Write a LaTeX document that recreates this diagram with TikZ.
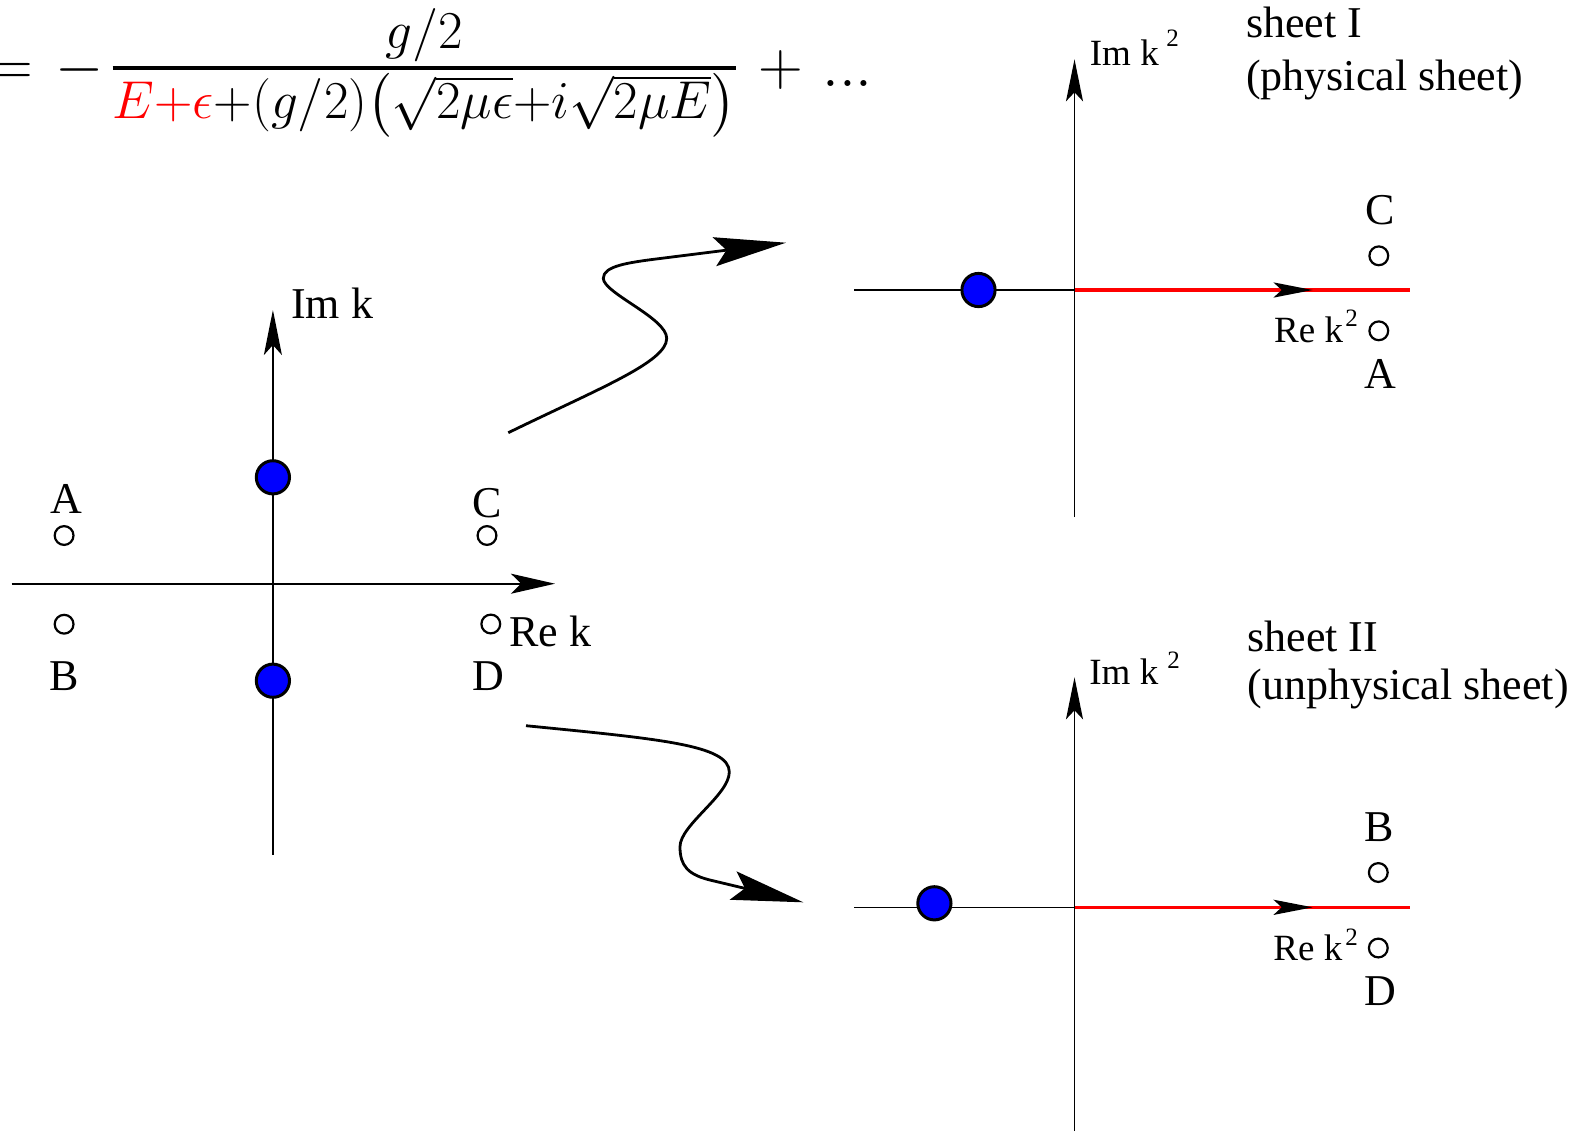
\RequirePackage{fix-cm}
\documentclass[tikz,border=0pt]{standalone}
\usepackage{amsmath}
\usepackage{graphicx}
\usepackage[no-math]{fontspec}
\setmainfont{Liberation Serif}
\usetikzlibrary{arrows.meta,decorations.markings}
\tikzset{
  axisline/.style={line width=0.8pt},
  cutline/.style={red, line width=1.8pt},
  wiggle/.style={line width=1.4pt, -{Stealth[length=36pt, width=14.5pt, inset=6pt]}},
  bigdot/.style={circle, draw=black, fill=blue, line width=1.5pt, minimum size=16.6pt, inner sep=0pt},
  smallc/.style={circle, draw=black, line width=1.1pt, minimum size=9.4pt, inner sep=0pt},
  lbl/.style={font=\fontsize{22}{26}\selectfont, inner sep=0pt},
  smalllbl/.style={font=\fontsize{18.5}{22}\selectfont, inner sep=0pt},
  suplbl/.style={font=\fontsize{12.5}{14}\selectfont, inner sep=0pt},
  eqbig/.style={font=\fontsize{31}{36}\selectfont, inner sep=0pt},
  cutmark/.style={postaction={decorate}, decoration={markings,
     mark=at position #1 with {\arrow[black]{Stealth[length=19.5pt, width=7.5pt, inset=4pt]}}}}
}
\begin{document}
\begin{tikzpicture}[x=0.5pt, y=-0.5pt]
\useasboundingbox (0,0) rectangle (1580,1131);
\clip (0,0) rectangle (1580,1131);

% ---------------- formula ----------------
\node[eqbig, anchor=base] (eqsign) at (11.1,85.5) {$=$};
\node[eqbig, anchor=base] (eqminus) at (79.3,85.5) {$-$};
\node[anchor=base west, inner sep=0pt] (frac) at (112.3,81) {\resizebox{311.5pt}{!}{\fontsize{24.88}{30}\selectfont\nulldelimiterspace=0pt$\genfrac{}{}{1.8pt}{1}{\textstyle g/2}{\textstyle\textcolor{red}{E{+}\epsilon}{+}(g/2){\left(\sqrt{2\mu\epsilon}{+}i\sqrt{2\mu E}\right)}}$}};
\node[eqbig, anchor=base] (eqplus) at (781.3,85.5) {$+$};
\node[eqbig, anchor=base] (eqdots) at (847.5,86.5) {$...$};

% ---------------- left k plane ----------------
\coordinate (Lxl) at (11.5,583.7);
\coordinate (Lxr) at (555,583.7);
\coordinate (Lyt) at (272.9,310);
\coordinate (Lyb) at (272.9,854.5);
\draw[axisline, -{Stealth[length=22pt, width=10pt, inset=5pt]}] (Lxl) -- (Lxr);
\draw[axisline, -{Stealth[length=22.5pt, width=9pt, inset=5pt]}] (Lyb) -- (Lyt);
\node[bigdot] (Lp1) at (272.9,477.3) {};
\node[bigdot] (Lp2) at (272.9,680.7) {};
\node[smallc] (cA) at (64.1,535.5) {};
\node[smallc] (cB) at (64.1,624.2) {};
\node[smallc] (cC) at (487,535.5) {};
\node[smallc] (cD) at (490.8,624) {};
\node[lbl, anchor=base] (tA) at (66.4,513.3) {A};
\node[lbl, anchor=base] (tC) at (487.4,517) {C};
\node[lbl, anchor=base] (tB) at (64.1,690.7) {B};
\node[lbl, anchor=base] (tD) at (488,690.7) {D};
\node[lbl, anchor=base west] (Limk) at (290.9,318.3) {Im k};
\node[lbl, anchor=base west] (Lrek) at (509,646) {Re k};

% ---------------- upper sheet ----------------
\coordinate (Uo) at (1074.5,290);
\coordinate (Uxl) at (854,290);
\coordinate (Uxr) at (1410,290);
\coordinate (Uyt) at (1074.5,59.3);
\coordinate (Uyb) at (1074.5,517);
\draw[axisline] (Uxl) -- (Uo);
\draw[cutline, cutmark=0.71] (Uo) -- (Uxr);
\draw[axisline, -{Stealth[length=21pt, width=8.5pt, inset=4.5pt]}] (Uyb) -- (Uyt);
\node[bigdot] (Up) at (978.5,290) {};
\node[smallc] (cC2) at (1378.8,255.8) {};
\node[smallc] (cA2) at (1378.8,330.8) {};
\node[lbl, anchor=base] (tC2) at (1380,224) {C};
\node[lbl, anchor=base] (tA2) at (1380,388) {A};
\node[smalllbl, anchor=base west] (Uimk) at (1089.5,65.7) {Im k};
\node[suplbl, anchor=base west] (Uimk2) at (1166,46.7) {2};
\node[smalllbl, anchor=base west] (Urek) at (1273.8,342.7) {Re k};
\node[suplbl, anchor=base west] (Urek2) at (1345,326) {2};
\node[lbl, anchor=base west] (Us1) at (1245.6,37.3) {sheet I};
\node[lbl, anchor=base west] (Us2) at (1245.6,90) {(physical sheet)};

% ---------------- lower sheet ----------------
\coordinate (Do) at (1074.5,907.3);
\coordinate (Dxl) at (854,907.3);
\coordinate (Dxr) at (1410,907.3);
\coordinate (Dyt) at (1074.5,677.3);
\coordinate (Dyb) at (1074.5,1131);
\draw[axisline] (Dxl) -- (Do);
\draw[cutline, cutmark=0.71] (Do) -- (Dxr);
\draw[axisline, -{Stealth[length=21pt, width=8.5pt, inset=4.5pt]}] (Dyb) -- (Dyt);
\node[bigdot] (Dp) at (934.4,903.3) {};
\node[smallc] (cB2) at (1378.3,872.5) {};
\node[smallc] (cD2) at (1378.3,948) {};
\node[lbl, anchor=base] (tB2) at (1379,841.7) {B};
\node[lbl, anchor=base] (tD2) at (1380,1005.7) {D};
\node[smalllbl, anchor=base west] (Dimk) at (1089,684) {Im k};
\node[suplbl, anchor=base west] (Dimk2) at (1167,668.3) {2};
\node[smalllbl, anchor=base west] (Drek) at (1273,960) {Re k};
\node[suplbl, anchor=base west] (Drek2) at (1345,945) {2};
\node[lbl, anchor=base west] (Ds1) at (1247,651.7) {sheet II};
\node[lbl, anchor=base west] (Ds2) at (1247,699) {(unphysical sheet)};

% ---------------- wiggly arrows ----------------
\coordinate (uaS) at (508.3,432.7);
\coordinate (uaR) at (666.7,338.3);
\coordinate (uaL) at (603.3,278.3);
\coordinate (uaQ) at (660,258.5);
\coordinate (uaT) at (786,242.7);
\draw[wiggle] (uaS) .. controls (600,388) and (666.7,362) .. (uaR)
  .. controls (666.7,318) and (603.3,293) .. (uaL)
  .. controls (603.3,266) and (628,262.5) .. (uaQ) -- (uaT);

\coordinate (laS) at (526,725.7);
\coordinate (laR) at (729.3,772);
\coordinate (laL) at (680,846.7);
\coordinate (laQ) at (712,880.5);
\coordinate (laT) at (803.3,902.3);
\draw[wiggle] (laS) .. controls (660,739) and (729.3,745) .. (laR)
  .. controls (729.3,795) and (680,825) .. (laL)
  .. controls (680,866) and (688,875) .. (laQ) -- (laT);
\end{tikzpicture}
\end{document}
